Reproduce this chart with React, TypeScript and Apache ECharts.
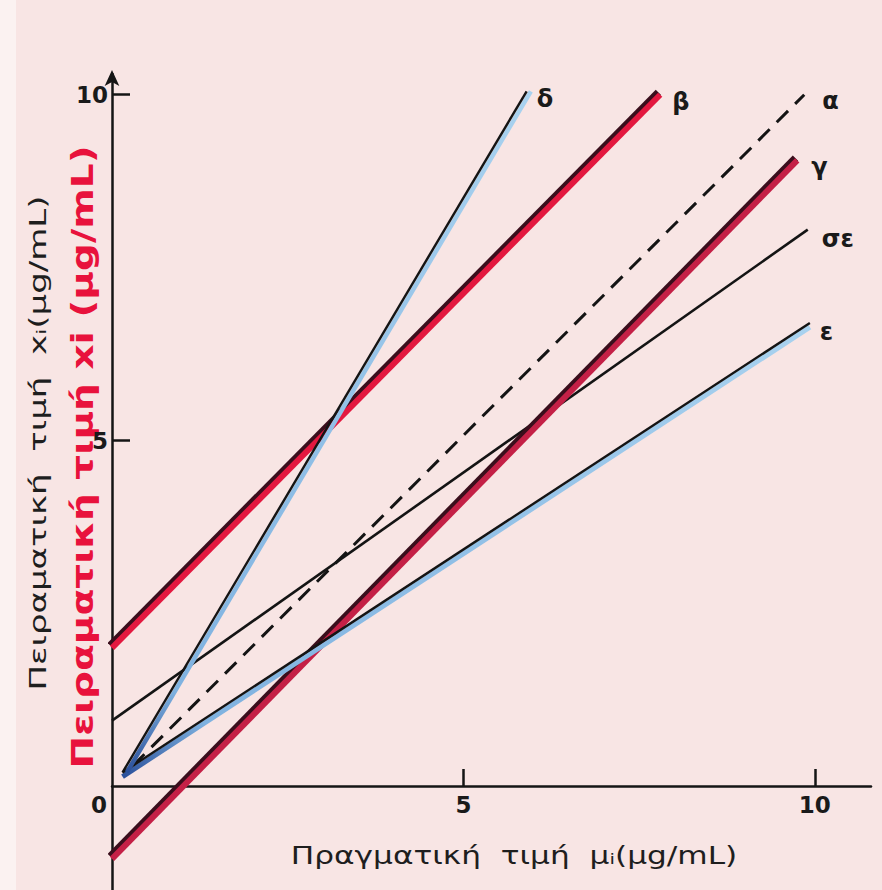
import React, { useEffect, useRef } from "react";
import * as echarts from "echarts";

// Tick labels / ticks
const xTickValues = [5, 10];
const xLabelValues = [0, 5, 10];
const yTickValues = [5, 10];
const yLabelValues = [5, 10];

// Line end points [actual μ, experimental x]
const lineDelta = [[0.15, 0.2], [5.9, 10.05]];
const lineBeta = [[0, 2.0], [7.8, 10.0]];
const lineAlpha = [[0.3, 0.3], [9.85, 10.0]];
const lineGamma = [[0, -1.05], [9.75, 9.05]];
const lineSigmaEps = [[0, 0.95], [9.9, 8.05]];
const lineEps = [[0.15, 0.2], [9.93, 6.7]];

const lineNames = { delta: "δ", beta: "β", alpha: "α", gamma: "γ", sigmaEps: "σε", eps: "ε" };

const FONT = "DejaVu Sans";

const shift = (pts: number[][], dx: number, dy: number) => pts.map(([x, y]) => [x + dx, y + dy]);

export default function App() {
  const ref = useRef<HTMLDivElement>(null);
  useEffect(() => {
    if (!ref.current) return;
    const chart = echarts.init(ref.current, null, { renderer: "svg" });
    const endLabel = (name: string, off: number[]) => ({
      show: true,
      formatter: name,
      fontFamily: FONT,
      fontWeight: "bold",
      fontSize: 24,
      color: "#1a1a1a",
      offset: off,
    });
    const blueGrad = (x2: number, y2: number) =>
      new echarts.graphic.LinearGradient(0, 1, x2, y2, [
        { offset: 0, color: "#2a4f9a" },
        { offset: 0.12, color: "#7fb2e0" },
        { offset: 1, color: "#a9d2ef" },
      ]);
    chart.setOption({
      animation: false,
      backgroundColor: "#f8e5e4",
      grid: { left: 112, right: 11, top: 74, bottom: 0, outerBoundsMode: "none" },
      xAxis: {
        type: "value",
        min: 0,
        max: 10.8,
        offset: -104,
        splitLine: { show: false },
        axisLine: { show: true, onZero: false, lineStyle: { color: "#151515", width: 2.5 } },
        axisTick: { show: true, inside: true, length: 17, customValues: xTickValues, lineStyle: { color: "#151515", width: 2.5 } },
        axisLabel: {
          show: true,
          customValues: xLabelValues,
          margin: 7,
          fontFamily: FONT,
          fontWeight: "bold",
          fontSize: 23,
          color: "#1a1a1a",
          formatter: (v: number) => (v === 0 ? "{z|0}" : String(v)),
          rich: { z: { fontFamily: FONT, fontWeight: "bold", fontSize: 23, color: "#1a1a1a", padding: [0, 26, 0, 0] } },
        },
      },
      yAxis: {
        type: "value",
        min: -1.5,
        max: 10.3,
        splitLine: { show: false },
        axisLine: {
          show: true,
          onZero: false,
          symbol: ["none", "arrow"],
          symbolSize: [11, 16],
          symbolOffset: [0, 4],
          lineStyle: { color: "#151515", width: 2.5 },
        },
        axisTick: { show: true, inside: true, length: 18, customValues: yTickValues, lineStyle: { color: "#151515", width: 2.5 } },
        axisLabel: {
          show: true,
          customValues: yLabelValues,
          margin: 4,
          fontFamily: FONT,
          fontWeight: "bold",
          fontSize: 23,
          color: "#1a1a1a",
        },
      },
      series: [
        {
          type: "line", name: lineNames.alpha, data: lineAlpha, symbol: "none", z: 2,
          lineStyle: { color: "#141414", width: 3, type: [16, 10] },
          endLabel: endLabel(lineNames.alpha, [10, 6]),
        },
        {
          type: "line", name: lineNames.sigmaEps, data: lineSigmaEps, symbol: "none", z: 2,
          lineStyle: { color: "#141414", width: 2.6 },
          endLabel: endLabel(lineNames.sigmaEps, [6, 9]),
        },
        {
          type: "line", name: "γ-edge", data: shift(lineGamma, -0.025, 0.035), symbol: "none", z: 3,
          lineStyle: { color: "#3a0e1c", width: 7.5 },
        },
        {
          type: "line", name: lineNames.gamma, data: lineGamma, symbol: "none", z: 3,
          lineStyle: { color: "#c42046", width: 6 },
          endLabel: endLabel(lineNames.gamma, [6, 7]),
        },
        {
          type: "line", name: "β-edge", data: shift(lineBeta, -0.025, 0.035), symbol: "none", z: 3,
          lineStyle: { color: "#3a0e1c", width: 7.5 },
        },
        {
          type: "line", name: lineNames.beta, data: lineBeta, symbol: "none", z: 3,
          lineStyle: { color: "#e3183f", width: 6 },
          endLabel: endLabel(lineNames.beta, [4, 7]),
        },
        {
          type: "line", name: "ε-blue", data: shift(lineEps, 0.0, -0.06), symbol: "none", z: 4,
          lineStyle: { color: blueGrad(1, 0), width: 5 },
        },
        {
          type: "line", name: lineNames.eps, data: lineEps, symbol: "none", z: 4,
          lineStyle: { color: "#141414", width: 2.4 },
          endLabel: endLabel(lineNames.eps, [2, 9]),
        },
        {
          type: "line", name: "δ-blue", data: shift(lineDelta, 0.06, 0.0), symbol: "none", z: 5,
          lineStyle: { color: blueGrad(0, 0), width: 4.5 },
        },
        {
          type: "line", name: lineNames.delta, data: lineDelta, symbol: "none", z: 5,
          lineStyle: { color: "#141414", width: 2.4 },
          endLabel: endLabel(lineNames.delta, [2, 8]),
        },
      ],
      graphic: [
        { type: "rect", z: -10, shape: { x: 0, y: 0, width: 16, height: 890 }, style: { fill: "#fbf2f1" } },
        {
          type: "text", x: 38, y: 443, rotation: Math.PI / 2, scaleX: 1.48,
          style: {
            text: "Πειραματική  τιμή  xᵢ(μg/mL)", fontFamily: FONT, fontSize: 23, fill: "#1e1e1e",
            textAlign: "center", textVerticalAlign: "middle",
          },
        },
        {
          type: "text", x: 83, y: 457, rotation: Math.PI / 2, scaleX: 1.3,
          style: {
            text: "Πειραματική τιμή xi (μg/mL)", fontFamily: FONT, fontWeight: "bold", fontSize: 30, fill: "#e8123c",
            textAlign: "center", textVerticalAlign: "middle",
          },
        },
        {
          type: "text", x: 514, y: 856, scaleX: 1.3,
          style: {
            text: "Πραγματική  τιμή  μᵢ(μg/mL)", fontFamily: FONT, fontSize: 24, fill: "#1e1e1e",
            textAlign: "center", textVerticalAlign: "middle",
          },
        },
      ],
    });
    return () => chart.dispose();
  }, []);
  return <div ref={ref} style={{ position: "absolute", left: 0, top: 0, width: 882, height: 890 }} />;
}
